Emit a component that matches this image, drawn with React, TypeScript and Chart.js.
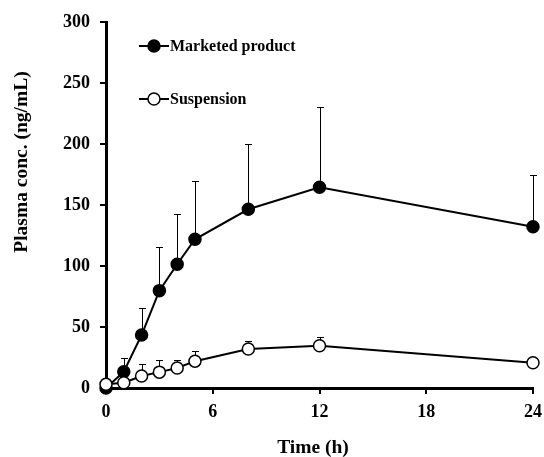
import React, { useEffect, useRef } from "react";
import { Chart, registerables } from "chart.js";

Chart.register(...registerables);

const times = [0, 1, 2, 3, 4, 5, 8, 12, 24];
const marketed = [0, 13.4, 43.4, 79.8, 101.4, 121.9, 146.5, 164.5, 132.2];
const marketedSD = [0, 11, 22, 36, 41.5, 48, 53.7, 65.5, 42.4];
const suspension = [3, 4.3, 9.8, 13, 16.4, 22, 32, 34.7, 20.7];
const suspensionSD = [0, 0, 9.8, 10, 6.6, 8, 6.8, 7.3, 0];
const xTicks = [0, 6, 12, 18, 24];
const seriesNames = ["Marketed product", "Suspension"];
const xTitle = "Time (h)";
const yTitle = "Plasma conc. (ng/mL)";

const FONT = "'Liberation Serif', 'Times New Roman', serif";

const errorBarPlugin = {
  id: "errorBars",
  beforeDatasetsDraw(chart: any) {
    const ctx = chart.ctx;
    const xs = chart.scales.x;
    const ys = chart.scales.y;
    const sets = [
      { v: marketed, e: marketedSD },
      { v: suspension, e: suspensionSD },
    ];
    ctx.save();
    ctx.strokeStyle = "#000";
    ctx.lineWidth = 1;
    sets.forEach((s) => {
      times.forEach((t, i) => {
        if (!s.e[i]) return;
        const x = Math.round(xs.getPixelForValue(t)) + 0.5;
        const y0 = ys.getPixelForValue(s.v[i]);
        const y1 = Math.round(ys.getPixelForValue(s.v[i] + s.e[i])) + 0.5;
        ctx.beginPath();
        ctx.moveTo(x, y0);
        ctx.lineTo(x, y1);
        ctx.moveTo(x - 3.5, y1);
        ctx.lineTo(x + 3.5, y1);
        ctx.stroke();
      });
    });
    ctx.restore();
  },
};

const legendPlugin = {
  id: "customLegend",
  afterDraw(chart: any) {
    const ctx = chart.ctx;
    const items = [
      { name: seriesNames[0], fill: "#000", y: 46 },
      { name: seriesNames[1], fill: "#fff", y: 99 },
    ];
    ctx.save();
    items.forEach((it) => {
      ctx.strokeStyle = "#000";
      ctx.lineWidth = 2;
      ctx.beginPath();
      ctx.moveTo(139, it.y);
      ctx.lineTo(169, it.y);
      ctx.stroke();
      ctx.beginPath();
      ctx.arc(154, it.y, 6, 0, Math.PI * 2);
      ctx.fillStyle = it.fill;
      ctx.fill();
      ctx.lineWidth = 1.5;
      ctx.stroke();
      ctx.fillStyle = "#000";
      ctx.font = `bold 16px ${FONT}`;
      ctx.textBaseline = "middle";
      ctx.textAlign = "left";
      ctx.fillText(it.name, 170, it.y + 1);
    });
    // axis titles
    ctx.font = `bold 19.5px ${FONT}`;
    ctx.textAlign = "center";
    ctx.textBaseline = "middle";
    ctx.fillText(xTitle, 313, 448);
    ctx.translate(21, 162);
    ctx.rotate(-Math.PI / 2);
    ctx.fillText(yTitle, 0, 1);
    ctx.restore();
  },
};

export default function App() {
  const ref = useRef<HTMLCanvasElement>(null);
  useEffect(() => {
    if (!ref.current) return;
    const tickFont = { family: FONT, size: 18, weight: "bold" };
    const chart = new Chart(ref.current, {
      type: "line",
      data: {
        datasets: [
          {
            label: seriesNames[0],
            data: times.map((t, i) => ({ x: t, y: marketed[i] })),
            borderColor: "#000",
            borderWidth: 2,
            backgroundColor: "#000",
            pointBackgroundColor: "#000",
            pointBorderColor: "#000",
            pointBorderWidth: 1.5,
            pointRadius: 6,
            order: 2,
            clip: false as any,
          },
          {
            label: seriesNames[1],
            data: times.map((t, i) => ({ x: t, y: suspension[i] })),
            borderColor: "#000",
            borderWidth: 2,
            backgroundColor: "#fff",
            pointBackgroundColor: "#fff",
            pointBorderColor: "#000",
            pointBorderWidth: 1.5,
            pointRadius: 6,
            order: 1,
            clip: false as any,
          },
        ],
      },
      options: {
        animation: false,
        responsive: false,
        layout: { padding: { top: 22, right: 0, left: 0, bottom: 0 } },
        plugins: { legend: { display: false }, tooltip: { enabled: false } },
        scales: {
          x: {
            type: "linear",
            min: 0,
            max: 24,
            afterBuildTicks: (s: any) => {
              s.ticks = xTicks.map((v) => ({ value: v }));
            },
            afterFit: (s: any) => {
              s.height = 69;
              s.paddingRight = 11;
            },
            border: { display: true, color: "#000", width: 3 },
            grid: {
              display: true,
              drawOnChartArea: false,
              drawTicks: true,
              tickLength: 6,
              color: "#000",
              lineWidth: 2,
            },
            ticks: {
              color: "#000",
              font: tickFont,
              padding: 8,
              maxRotation: 0,
            },
          },
          y: {
            type: "linear",
            min: 0,
            max: 300,
            ticks: {
              stepSize: 50,
              color: "#000",
              font: tickFont,
              padding: 10,
            },
            afterFit: (s: any) => {
              s.width = 106;
            },
            border: { display: true, color: "#000", width: 3 },
            grid: {
              display: true,
              drawOnChartArea: false,
              drawTicks: true,
              tickLength: 6,
              color: "#000",
              lineWidth: 2,
            },
          },
        },
      },
      plugins: [errorBarPlugin, legendPlugin],
    } as any);
    return () => chart.destroy();
  }, []);
  return (
    <div style={{ position: "fixed", left: 0, top: 0, width: 544, height: 457, background: "#fff" }}>
      <canvas ref={ref} width={544} height={457} style={{ width: 544, height: 457 }} />
    </div>
  );
}
